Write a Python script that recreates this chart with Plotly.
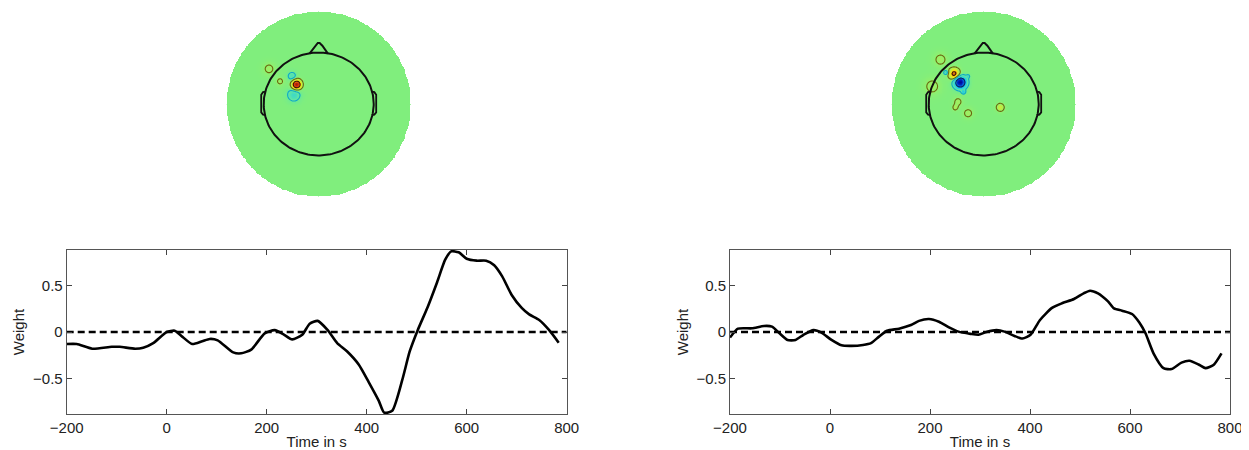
import numpy as np
import plotly.graph_objects as go

# ---------------- line-plot data ----------------
time_left = [-200, -180, -149, -110, -94, -63, -47, -27, 0, 16, 31, 51, 71, 86, 102, 133, 149, 169,
             196, 216, 235, 251, 271, 286, 302, 322, 341, 361, 384, 404, 424, 435, 451, 471, 486,
             502, 522, 541, 557, 569, 584, 600, 620, 639, 655, 671, 690, 710, 725, 745, 765, 784]
weight_left = [-0.13, -0.13, -0.18, -0.16, -0.16, -0.18, -0.17, -0.12, 0.0, 0.014, -0.05, -0.13,
               -0.10, -0.075, -0.09, -0.22, -0.23, -0.19, -0.015, 0.02, -0.03, -0.08, -0.03, 0.09,
               0.12, 0.02, -0.12, -0.21, -0.35, -0.54, -0.74, -0.87, -0.85, -0.52, -0.21, 0.02,
               0.27, 0.54, 0.78, 0.87, 0.86, 0.79, 0.77, 0.77, 0.72, 0.60, 0.40, 0.26, 0.19, 0.13,
               0.02, -0.115]

time_right = [-200, -184, -156, -132, -116, -101, -85, -69, -53, -33, -17, 3, 23, 43, 66, 82, 98,
              114, 138, 162, 178, 198, 218, 238, 257, 281, 297, 313, 333, 349, 369, 385, 401, 420,
              444, 464, 488, 508, 520, 536, 556, 568, 584, 604, 619, 631, 647, 667, 683, 703, 719,
              739, 751, 767, 783]
weight_right = [-0.06, 0.036, 0.04, 0.065, 0.058, -0.014, -0.086, -0.086, -0.03, 0.02, -0.007,
                -0.086, -0.144, -0.15, -0.14, -0.12, -0.05, 0.014, 0.036, 0.075, 0.12, 0.14, 0.11,
                0.05, 0.004, -0.02, -0.03, 0.0, 0.02, 0.004, -0.043, -0.07, -0.03, 0.13, 0.26,
                0.31, 0.356, 0.42, 0.446, 0.417, 0.33, 0.255, 0.23, 0.194, 0.10, -0.014, -0.23,
                -0.39, -0.40, -0.33, -0.31, -0.356, -0.39, -0.356, -0.23]

zero_time = [-200, 800]
zero_weight = [0, 0]
x_ticks = [-200, 0, 200, 400, 600, 800]
x_tick_labels = ["\u2212200", "0", "200", "400", "600", "800"]
y_ticks = [-0.5, 0, 0.5]
y_tick_labels = ["\u22120.5", "0", "0.5"]

# ---------------- topographic map sources ----------------
left_src_x = [-0.24, -0.27, -0.29, -0.54, -0.42]
left_src_y = [0.21, 0.10, 0.30, 0.38, 0.245]
left_src_amp = [0.9, -0.25, -0.2, 0.14, 0.14]
left_src_w = [0.035, 0.05, 0.035, 0.05, 0.033]

right_src_x = [-0.32, -0.255, -0.22, -0.41, -0.17, -0.47, -0.56, -0.28, -0.31, -0.17, 0.18]
right_src_y = [0.325, 0.235, 0.13, 0.34, 0.30, 0.48, 0.19, 0.025, -0.04, -0.10, -0.036]
right_src_amp = [0.62, -0.95, -0.3, -0.3, -0.2, 0.15, 0.15, 0.15, 0.15, 0.15, 0.25]
right_src_w = [0.04, 0.045, 0.015, 0.018, 0.012, 0.054, 0.065, 0.036, 0.024, 0.042, 0.032]

contour_pos_levels = [0.1, 0.5]
contour_neg_levels = [-0.1, -0.5]

# head outline geometry (unit disk coordinates)
head_rx, head_ry = 0.598, 0.556
nose_x = [-0.10, -0.04, -0.01, 0.01, 0.04, 0.10]
nose_y = [0.545, 0.63, 0.66, 0.66, 0.63, 0.545]
ear_x = [-0.575, -0.605, -0.625, -0.625, -0.605, -0.575]
ear_y = [0.135, 0.128, 0.10, -0.09, -0.115, -0.12]

grid = np.linspace(-1, 1, 221)
GX, GY = np.meshgrid(grid, grid)
outside = GX ** 2 + GY ** 2 > 1.0


def field(sx, sy, amp, w):
    z = np.zeros_like(GX)
    for x0, y0, a, s in zip(sx, sy, amp, w):
        z += a * np.exp(-((GX - x0) ** 2 + (GY - y0) ** 2) / (2 * s ** 2))
    z[outside] = np.nan
    return z


jet = [[0, 'rgb(0,0,135)'], [0.12, 'rgb(0,40,200)'], [0.3, 'rgb(20,200,240)'],
       [0.44, 'rgb(100,232,160)'], [0.5, 'rgb(128,238,125)'], [0.56, 'rgb(150,240,105)'],
       [0.68, 'rgb(245,230,20)'], [0.85, 'rgb(225,50,10)'], [1, 'rgb(120,20,10)']]

fig = go.Figure()

# ---- line plots ----
for i, (t, w) in enumerate([(time_left, weight_left), (time_right, weight_right)]):
    xa = 'x' if i == 0 else 'x2'
    ya = 'y' if i == 0 else 'y2'
    fig.add_trace(go.Scatter(x=zero_time, y=zero_weight, mode='lines', xaxis=xa, yaxis=ya,
                             line=dict(color='black', width=2.5, dash='7px,4px'),
                             hoverinfo='skip', showlegend=False))
    fig.add_trace(go.Scatter(x=t, y=w, mode='lines', xaxis=xa, yaxis=ya,
                             line=dict(color='black', width=2.6, shape='spline', smoothing=0.6),
                             showlegend=False))

# ---- topo maps ----
theta = np.linspace(0, 2 * np.pi, 200)
for i, (sx, sy, amp, w) in enumerate([(left_src_x, left_src_y, left_src_amp, left_src_w),
                                      (right_src_x, right_src_y, right_src_amp, right_src_w)]):
    xa = 'x3' if i == 0 else 'x4'
    ya = 'y3' if i == 0 else 'y4'
    z = field(sx, sy, amp, w)
    fig.add_trace(go.Heatmap(x=grid, y=grid, z=z, colorscale=jet, zmin=-1, zmax=1,
                             showscale=False, xaxis=xa, yaxis=ya, hoverinfo='skip'))
    for lev, col in zip(contour_pos_levels + contour_neg_levels,
                        ['#6b6810', '#3a1008', '#10a8c8', '#0a1a60']):
        fig.add_trace(go.Contour(x=grid, y=grid, z=z, autocontour=False,
                                 contours=dict(start=lev, end=lev, size=1, coloring='none'),
                                 line=dict(width=1.1, color=col), showscale=False,
                                 xaxis=xa, yaxis=ya, hoverinfo='skip'))
    # head
    fig.add_trace(go.Scatter(x=head_rx * np.cos(theta), y=head_ry * np.sin(theta), mode='lines',
                             line=dict(color='#111', width=2), xaxis=xa, yaxis=ya,
                             hoverinfo='skip', showlegend=False))
    fig.add_trace(go.Scatter(x=nose_x, y=nose_y, mode='lines', line=dict(color='#111', width=2),
                             xaxis=xa, yaxis=ya, hoverinfo='skip', showlegend=False))
    fig.add_trace(go.Scatter(x=ear_x, y=ear_y, mode='lines', line=dict(color='#111', width=1.8),
                             xaxis=xa, yaxis=ya, hoverinfo='skip', showlegend=False))
    fig.add_trace(go.Scatter(x=[-v for v in ear_x], y=ear_y, mode='lines',
                             line=dict(color='#111', width=1.8),
                             xaxis=xa, yaxis=ya, hoverinfo='skip', showlegend=False))

# the page body has an 8px margin: size the figure so it fills the window exactly
OFF = 8
W, H = 1249 - OFF, 450 - OFF
font = dict(family='Liberation Sans, Arial, sans-serif', size=15, color='#222')


def fx(px):
    return (px - OFF) / W


def fy(py):
    return 1 - (py - OFF) / H


def xline(x0, x1):
    return dict(domain=[fx(x0), fx(x1)], range=[-200, 800], tickvals=x_ticks,
                ticktext=x_tick_labels, ticks='inside', ticklen=5, tickcolor='#444',
                mirror='allticks', showline=True, linecolor='#555', linewidth=1,
                showgrid=False, zeroline=False, tickfont=font, automargin=False,
                title=dict(text='Time in s', font=font, standoff=2))


def yline(anchor):
    return dict(domain=[fy(414), fy(250)], range=[-0.885, 0.885], tickvals=y_ticks,
                ticktext=y_tick_labels, ticks='inside', ticklen=5, tickcolor='#444',
                mirror='allticks', showline=True, linecolor='#555', linewidth=1,
                showgrid=False, zeroline=False, tickfont=font, anchor=anchor, automargin=False,
                title=dict(text='Weight', font=font, standoff=4))


def topo_x(x0, x1):
    return dict(domain=[fx(x0), fx(x1)], range=[-1, 1], visible=False, automargin=False)


def topo_y(anchor):
    return dict(domain=[fy(196.5), fy(11.5)], range=[-1, 1], visible=False,
                anchor=anchor, automargin=False)


fig.update_layout(
    width=W, height=H, margin=dict(l=0, r=0, t=0, b=0),
    paper_bgcolor='white', plot_bgcolor='white', showlegend=False,
    xaxis=dict(xline(66.7, 566.7), anchor='y'), yaxis=yline('x'),
    xaxis2=dict(xline(730, 1230), anchor='y2'), yaxis2=yline('x2'),
    xaxis3=dict(topo_x(226.7, 410.7), anchor='y3'), yaxis3=topo_y('x3'),
    xaxis4=dict(topo_x(891.7, 1075.7), anchor='y4'), yaxis4=topo_y('x4'),
)

fig.write_html("out.html")
